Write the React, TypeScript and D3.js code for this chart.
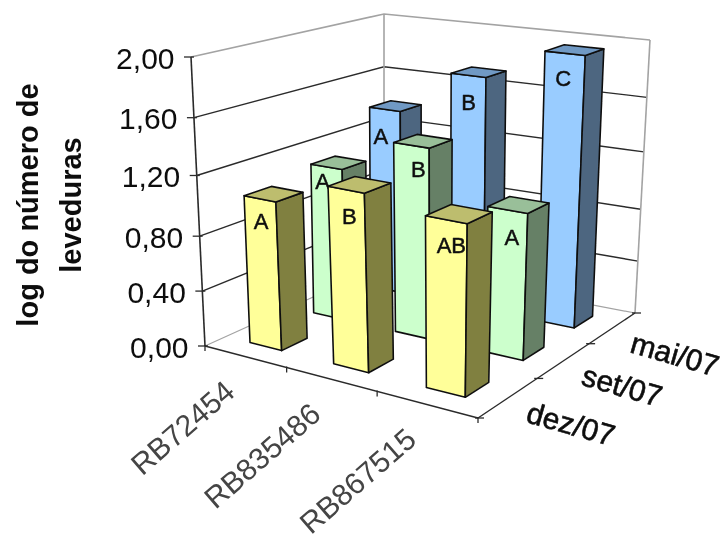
import React from "react";
import * as d3 from "d3";

const categories = ["RB72454", "RB835486", "RB867515"];
const seriesNames = ["dez/07", "set/07", "mai/07"];
const dez07 = [1.05, 1.22, 1.15];
const set07 = [1.11, 1.36, 1.03];
const mai07 = [1.39, 1.72, 1.95];
const dezLetters = ["A", "B", "AB"];
const setLetters = ["A", "B", "A"];
const maiLetters = ["A", "B", "C"];
const yTicks = [0, 0.4, 0.8, 1.2, 1.6, 2.0];
const wallFractions = [0, 0.19, 0.38, 0.59, 0.79, 1];

type Pt = [number, number];
const floorQuad: Pt[] = [[205, 346], [478, 418], [635, 313], [384, 265]];
const topQuad: Pt[] = [[191, 57], [484, 103], [650, 40], [384, 14]];

function homography(q: Pt[]) {
  const [[x0, y0], [x1, y1], [x2, y2], [x3, y3]] = q;
  const dx1 = x1 - x2, dx2 = x3 - x2, sx = x0 - x1 + x2 - x3;
  const dy1 = y1 - y2, dy2 = y3 - y2, sy = y0 - y1 + y2 - y3;
  const det = dx1 * dy2 - dx2 * dy1;
  const g = (sx * dy2 - dx2 * sy) / det;
  const h = (dx1 * sy - sx * dy1) / det;
  const a = x1 - x0 + g * x1, b = x3 - x0 + h * x3, c = x0;
  const d = y1 - y0 + g * y1, e = y3 - y0 + h * y3, f = y0;
  return (u: number, v: number): Pt => {
    const w = g * u + h * v + 1;
    return [(a * u + b * v + c) / w, (d * u + e * v + f) / w];
  };
}
const floorH = homography(floorQuad);
const topH = homography(topQuad);
const uScale = d3.scaleLinear().domain([0, categories.length]).range([0, 1]);
const vScale = d3.scaleLinear().domain([0, seriesNames.length]).range([0, 1]);
const yScale = d3.scaleLinear().domain(yTicks).range(wallFractions);

function project(cat: number, ser: number, value: number): Pt {
  const a = floorH(uScale(cat), vScale(ser));
  const b = topH(uScale(cat), vScale(ser));
  const t = yScale(value);
  return [a[0] + (b[0] - a[0]) * t, a[1] + (b[1] - a[1]) * t];
}
const line = d3.line<Pt>();
const closed = (pts: Pt[]) => line(pts) + "Z";

const palette = [
  { front: "#FFFF99", side: "#808040", top: "#BDBD6E" },
  { front: "#CCFFCC", side: "#668066", top: "#99BF99" },
  { front: "#99CCFF", side: "#4D6680", top: "#7099C4" },
];
const HALF = 0.195;
const rows = [
  { values: dez07, letters: dezLetters, nudge: [[1, 23], [3, 27], [5, 26]] },
  { values: set07, letters: setLetters, nudge: [[-4, 15], [7, 24], [4, 27]] },
  { values: mai07, letters: maiLetters, nudge: [[-4, 27], [0, 27], [-2, 25]] },
];
const font = "'Liberation Sans', Arial, sans-serif";
const GRID = "#2a2a2a";
const FRAME = "#a3a3a3";

function Bar({ c, s, value, letter, nudge }: any) {
  const col = palette[s];
  const p = (du: number, dv: number, val: number) => project(c + 0.5 + du, s + 0.5 + dv, val);
  const fl = p(-HALF, -HALF, 0), fr = p(HALF, -HALF, 0), br = p(HALF, HALF, 0);
  const tfl = p(-HALF, -HALF, value), tfr = p(HALF, -HALF, value), tbr = p(HALF, HALF, value), tbl = p(-HALF, HALF, value);
  const lx = (tfl[0] + tfr[0]) / 2 + nudge[0];
  const ly = (tfl[1] + tfr[1]) / 2 + nudge[1];
  return (
    <g stroke="#111" strokeWidth={1.6} strokeLinejoin="round">
      <path d={closed([fl, fr, tfr, tfl])} fill={col.front} />
      <path d={closed([fr, br, tbr, tfr])} fill={col.side} />
      <path d={closed([tfl, tfr, tbr, tbl])} fill={col.top} />
      <text x={lx} y={ly} stroke="#111" strokeWidth={0.5} fill="#111" fontFamily={font} fontSize={22} textAnchor="middle" dominantBaseline="central">{letter}</text>
    </g>
  );
}

export default function App() {
  const gridPaths = yTicks.map((t) => {
    const a = project(0, 0, t), b = project(0, 3, t), c = project(3, 3, t);
    return { t, d: line([a, b, c])!, a };
  });
  const catTicks = d3.range(0, categories.length + 1).map((i) => project(i, 0, 0));
  const serTicks = d3.range(0, seriesNames.length + 1).map((i) => project(3, i, 0));
  const catLabelPos: Pt[] = categories.map((_, i) => {
    const p = project(i + 0.5, 0, 0);
    return [p[0] - 15, p[1] + 30];
  });
  const serLabelPos: Pt[] = seriesNames.map((_, i) => {
    const p = project(3, i + 0.5, 0);
    return [p[0] + 19, p[1] + 14];
  });
  const fmt = (n: number) => n.toFixed(2).replace(".", ",");
  return (
    <svg width={728} height={540} style={{ position: "absolute", left: 0, top: 0, background: "#fff" }}>
      <defs>
        <filter id="soft" x="-5%" y="-5%" width="110%" height="110%">
          <feGaussianBlur stdDeviation="0.55" />
        </filter>
      </defs>
      <g filter="url(#soft)">
        {/* walls */}
        <g fill="none" strokeWidth={1.4}>
          {gridPaths.filter((g) => g.t > 0 && g.t < 2).map((g) => (
            <path key={g.t} d={g.d} stroke={GRID} />
          ))}
          <path d={gridPaths[gridPaths.length - 1].d} stroke={FRAME} strokeWidth={1.6} />
          <path d={gridPaths[0].d} stroke={FRAME} strokeWidth={1.2} />
          <path d={line([project(0, 3, 0), project(0, 3, 2)])!} stroke={FRAME} strokeWidth={1.6} />
          <path d={line([project(3, 3, 0), project(3, 3, 2)])!} stroke={FRAME} strokeWidth={1.6} />
          <path d={line([project(0, 0, 0), project(0, 0, 2)])!} stroke={GRID} strokeWidth={1.6} />
          <path d={line([project(0, 0, 0), project(3, 0, 0)])!} stroke={GRID} />
          <path d={line([project(3, 0, 0), project(3, 3, 0)])!} stroke={GRID} />
        </g>
        {/* ticks */}
        <g stroke={GRID} strokeWidth={1.3}>
          {gridPaths.map((g) => (
            <line key={g.t} x1={g.a[0] - 7} x2={g.a[0] + 3} y1={g.a[1]} y2={g.a[1]} />
          ))}
          {catTicks.map((p, i) => (
            <line key={i} x1={p[0]} x2={p[0]} y1={p[1] - 1} y2={p[1] + 5} />
          ))}
          {serTicks.map((p, i) => (
            <line key={i} x1={p[0] - 3} x2={p[0] + 6} y1={p[1]} y2={p[1]} />
          ))}
        </g>
        {/* bars, back row first */}
        {[2, 1, 0].map((s) =>
          rows[s].values.map((v, c) => (
            <Bar key={`${s}-${c}`} c={c} s={s} value={v} letter={rows[s].letters[c]} nudge={rows[s].nudge[c]} />
          ))
        )}
        {/* y tick labels */}
        {gridPaths.map((g) => (
          <text key={g.t} x={g.a[0] - 16.5} y={g.a[1] + 1} textAnchor="end" dominantBaseline="central" fontFamily={font} fontSize={30} fill="#111">
            {fmt(g.t)}
          </text>
        ))}
        {/* y title */}
        <g transform="translate(38,205) rotate(-90)" fontFamily={font} fontSize={29} fontWeight="bold" fill="#111" textAnchor="middle">
          <text x={0} y={0}>log do número de</text>
          <text x={0} y={43}>leveduras</text>
        </g>
        {/* category labels */}
        {categories.map((name, i) => (
          <text key={name} transform={`translate(${catLabelPos[i][0]},${catLabelPos[i][1]}) rotate(-41)`} textAnchor="end" dominantBaseline="central" fontFamily={font} fontSize={30} fill="#444">
            {name}
          </text>
        ))}
        {/* series labels */}
        {seriesNames.map((name, i) => (
          <text key={name} transform={`translate(${serLabelPos[i][0]},${serLabelPos[i][1]}) rotate(16)`} dominantBaseline="central" fontFamily={font} fontSize={30} fill="#111" stroke="#111" strokeWidth={0.6}>
            {name}
          </text>
        ))}
      </g>
    </svg>
  );
}
